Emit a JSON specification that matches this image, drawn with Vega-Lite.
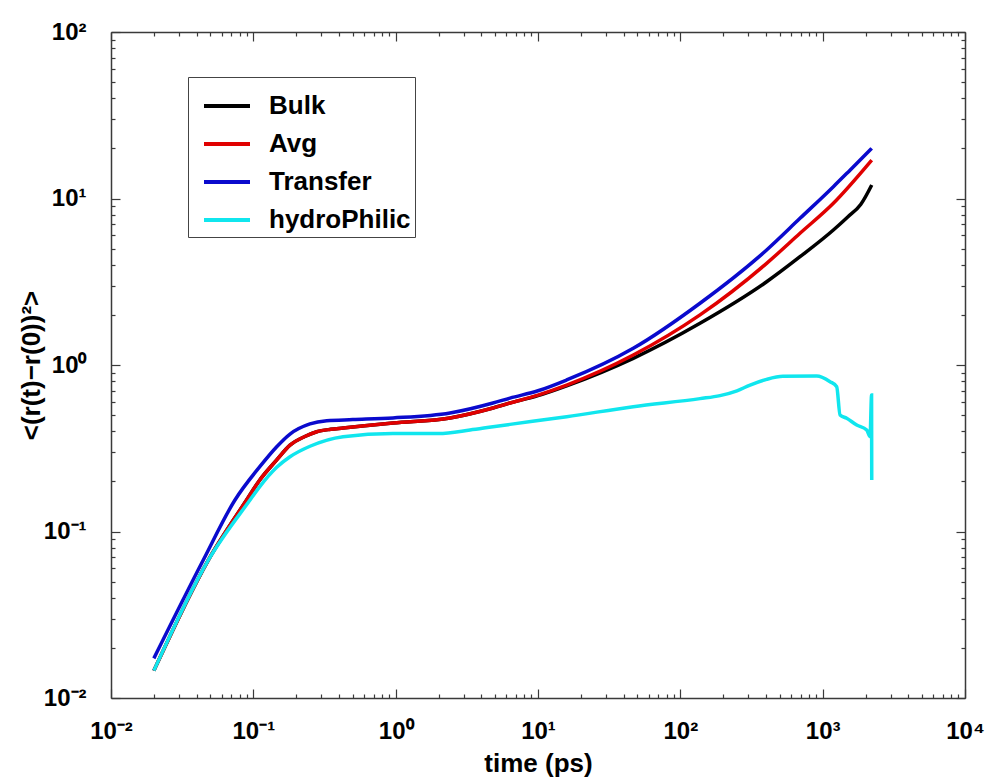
{
  "$schema": "https://vega.github.io/schema/vega-lite/v6.json",
  "width": 854,
  "height": 666,
  "autosize": "none",
  "padding": {"left": 111, "top": 32, "right": 24, "bottom": 85},
  "background": "white",
  "config": {
    "view": {"stroke": null},
    "axis": {
      "grid": false,
      "domainColor": "#3a3a3a",
      "domainWidth": 1.5,
      "tickColor": "#3a3a3a",
      "tickWidth": 1.2,
      "labelFont": "Liberation Sans",
      "labelFontSize": 24,
      "labelFontWeight": "bold",
      "labelColor": "black",
      "titleFont": "Liberation Sans",
      "titleFontSize": 26,
      "titleFontWeight": "bold",
      "titleColor": "black",
      "labelOverlap": false,
      "labelBound": false,
      "labelFlush": false
    }
  },
  "data": {
    "values": [
      {"series": "Bulk", "t": 0.02, "msd": 0.0146},
      {"series": "Bulk", "t": 0.0483, "msd": 0.0674},
      {"series": "Bulk", "t": 0.0897, "msd": 0.1546},
      {"series": "Bulk", "t": 0.111, "msd": 0.204},
      {"series": "Bulk", "t": 0.146, "msd": 0.269},
      {"series": "Bulk", "t": 0.181, "msd": 0.33},
      {"series": "Bulk", "t": 0.23, "msd": 0.372},
      {"series": "Bulk", "t": 0.279, "msd": 0.3975},
      {"series": "Bulk", "t": 0.35, "msd": 0.411},
      {"series": "Bulk", "t": 0.427, "msd": 0.418},
      {"series": "Bulk", "t": 0.957, "msd": 0.449},
      {"series": "Bulk", "t": 2.41, "msd": 0.481},
      {"series": "Bulk", "t": 4.83, "msd": 0.552},
      {"series": "Bulk", "t": 6.36, "msd": 0.591},
      {"series": "Bulk", "t": 10, "msd": 0.655},
      {"series": "Bulk", "t": 15.9, "msd": 0.75},
      {"series": "Bulk", "t": 46.7, "msd": 1.097},
      {"series": "Bulk", "t": 137.5, "msd": 1.78},
      {"series": "Bulk", "t": 404, "msd": 3.16},
      {"series": "Bulk", "t": 693, "msd": 4.47},
      {"series": "Bulk", "t": 1189, "msd": 6.47},
      {"series": "Bulk", "t": 1500, "msd": 7.75},
      {"series": "Bulk", "t": 1850, "msd": 9.2},
      {"series": "Bulk", "t": 2212, "msd": 12.06},

      {"series": "Avg", "t": 0.02, "msd": 0.0146},
      {"series": "Avg", "t": 0.0483, "msd": 0.0674},
      {"series": "Avg", "t": 0.0897, "msd": 0.1546},
      {"series": "Avg", "t": 0.111, "msd": 0.204},
      {"series": "Avg", "t": 0.146, "msd": 0.269},
      {"series": "Avg", "t": 0.181, "msd": 0.33},
      {"series": "Avg", "t": 0.23, "msd": 0.372},
      {"series": "Avg", "t": 0.279, "msd": 0.3975},
      {"series": "Avg", "t": 0.35, "msd": 0.411},
      {"series": "Avg", "t": 0.427, "msd": 0.418},
      {"series": "Avg", "t": 0.957, "msd": 0.449},
      {"series": "Avg", "t": 2.41, "msd": 0.481},
      {"series": "Avg", "t": 4.83, "msd": 0.552},
      {"series": "Avg", "t": 6.36, "msd": 0.591},
      {"series": "Avg", "t": 10, "msd": 0.66},
      {"series": "Avg", "t": 15.9, "msd": 0.758},
      {"series": "Avg", "t": 46.7, "msd": 1.148},
      {"series": "Avg", "t": 137.5, "msd": 2.0},
      {"series": "Avg", "t": 404, "msd": 4.08},
      {"series": "Avg", "t": 693, "msd": 6.18},
      {"series": "Avg", "t": 1189, "msd": 9.36},
      {"series": "Avg", "t": 2212, "msd": 17.0},

      {"series": "Transfer", "t": 0.02, "msd": 0.0173},
      {"series": "Transfer", "t": 0.0445, "msd": 0.0674},
      {"series": "Transfer", "t": 0.0743, "msd": 0.1546},
      {"series": "Transfer", "t": 0.111, "msd": 0.245},
      {"series": "Transfer", "t": 0.146, "msd": 0.323},
      {"series": "Transfer", "t": 0.181, "msd": 0.385},
      {"series": "Transfer", "t": 0.25, "msd": 0.443},
      {"series": "Transfer", "t": 0.328, "msd": 0.463},
      {"series": "Transfer", "t": 0.5, "msd": 0.47},
      {"series": "Transfer", "t": 0.957, "msd": 0.481},
      {"series": "Transfer", "t": 2.41, "msd": 0.515},
      {"series": "Transfer", "t": 4.83, "msd": 0.591},
      {"series": "Transfer", "t": 6.36, "msd": 0.633},
      {"series": "Transfer", "t": 10, "msd": 0.7},
      {"series": "Transfer", "t": 15.9, "msd": 0.813},
      {"series": "Transfer", "t": 46.7, "msd": 1.26},
      {"series": "Transfer", "t": 137.5, "msd": 2.35},
      {"series": "Transfer", "t": 404, "msd": 4.91},
      {"series": "Transfer", "t": 693, "msd": 7.6},
      {"series": "Transfer", "t": 1189, "msd": 11.78},
      {"series": "Transfer", "t": 1556, "msd": 14.8},
      {"series": "Transfer", "t": 2212, "msd": 20.0},

      {"series": "hydroPhilic", "t": 0.02, "msd": 0.0146},
      {"series": "hydroPhilic", "t": 0.0483, "msd": 0.0674},
      {"series": "hydroPhilic", "t": 0.0948, "msd": 0.1546},
      {"series": "hydroPhilic", "t": 0.111, "msd": 0.186},
      {"series": "hydroPhilic", "t": 0.146, "msd": 0.243},
      {"series": "hydroPhilic", "t": 0.181, "msd": 0.281},
      {"series": "hydroPhilic", "t": 0.25, "msd": 0.325},
      {"series": "hydroPhilic", "t": 0.427, "msd": 0.371},
      {"series": "hydroPhilic", "t": 0.957, "msd": 0.388},
      {"series": "hydroPhilic", "t": 2.0, "msd": 0.388},
      {"series": "hydroPhilic", "t": 3.33, "msd": 0.407},
      {"series": "hydroPhilic", "t": 4.83, "msd": 0.426},
      {"series": "hydroPhilic", "t": 6.36, "msd": 0.44},
      {"series": "hydroPhilic", "t": 15.9, "msd": 0.489},
      {"series": "hydroPhilic", "t": 46.7, "msd": 0.562},
      {"series": "hydroPhilic", "t": 137.5, "msd": 0.628},
      {"series": "hydroPhilic", "t": 190, "msd": 0.655},
      {"series": "hydroPhilic", "t": 250, "msd": 0.7},
      {"series": "hydroPhilic", "t": 309, "msd": 0.758},
      {"series": "hydroPhilic", "t": 404, "msd": 0.82},
      {"series": "hydroPhilic", "t": 526, "msd": 0.855},
      {"series": "hydroPhilic", "t": 908, "msd": 0.859},
      {"series": "hydroPhilic", "t": 1127, "msd": 0.794},
      {"series": "hydroPhilic", "t": 1255, "msd": 0.741},
      {"series": "hydroPhilic", "t": 1325, "msd": 0.501},
      {"series": "hydroPhilic", "t": 1475, "msd": 0.479},
      {"series": "hydroPhilic", "t": 1735, "msd": 0.436},
      {"series": "hydroPhilic", "t": 2039, "msd": 0.407},
      {"series": "hydroPhilic", "t": 2152, "msd": 0.371},
      {"series": "hydroPhilic", "t": 2206, "msd": 0.66},
      {"series": "hydroPhilic", "t": 2212, "msd": 0.204}
    ]
  },
  "layer": [
    {
      "mark": {"type": "line", "strokeWidth": 3.5, "clip": true, "interpolate": "monotone"},
      "encoding": {
        "x": {
          "field": "t", "type": "quantitative",
          "scale": {"type": "log", "domain": [0.01, 10000]},
          "axis": {
            "orient": "bottom",
            "title": "time (ps)",
            "titlePadding": 2,
            "values": [0.01,0.02,0.03,0.04,0.05,0.06,0.07,0.08,0.09,0.1,0.2,0.3,0.4,0.5,0.6,0.7,0.8,0.9,1,2,3,4,5,6,7,8,9,10,20,30,40,50,60,70,80,90,100,200,300,400,500,600,700,800,900,1000,2000,3000,4000,5000,6000,7000,8000,9000,10000],
            "tickSize": {"condition": {"test": "abs(log(datum.value)/LN10 - round(log(datum.value)/LN10)) < 0.001", "value": -9}, "value": -4},
            "labelPadding": 30,
            "labelExpr": "abs(log(datum.value)/LN10 - round(log(datum.value)/LN10)) > 0.001 ? '' : (round(log(datum.value)/LN10) == -2 ? '10⁻²' : round(log(datum.value)/LN10) == -1 ? '10⁻¹' : round(log(datum.value)/LN10) == 0 ? '10⁰' : round(log(datum.value)/LN10) == 1 ? '10¹' : round(log(datum.value)/LN10) == 2 ? '10²' : round(log(datum.value)/LN10) == 3 ? '10³' : '10⁴')"
          }
        },
        "y": {
          "field": "msd", "type": "quantitative",
          "scale": {"type": "log", "domain": [0.01, 100]},
          "axis": {
            "orient": "left",
            "title": "<(r(t)−r(0))²>",
            "titlePadding": -1,
            "values": [0.01,0.02,0.03,0.04,0.05,0.06,0.07,0.08,0.09,0.1,0.2,0.3,0.4,0.5,0.6,0.7,0.8,0.9,1,2,3,4,5,6,7,8,9,10,20,30,40,50,60,70,80,90,100],
            "tickSize": {"condition": {"test": "abs(log(datum.value)/LN10 - round(log(datum.value)/LN10)) < 0.001", "value": -9}, "value": -4},
            "labelPadding": 34,
            "labelExpr": "abs(log(datum.value)/LN10 - round(log(datum.value)/LN10)) > 0.001 ? '' : (round(log(datum.value)/LN10) == -2 ? '10⁻²' : round(log(datum.value)/LN10) == -1 ? '10⁻¹' : round(log(datum.value)/LN10) == 0 ? '10⁰' : round(log(datum.value)/LN10) == 1 ? '10¹' : round(log(datum.value)/LN10) == 2 ? '10²' : round(log(datum.value)/LN10) == 3 ? '10³' : '10⁴')"
          }
        },
        "color": {
          "field": "series", "type": "nominal",
          "scale": {
            "domain": ["Bulk", "Avg", "Transfer", "hydroPhilic"],
            "range": ["#000000", "#e00000", "#0a0acd", "#10e6ee"]
          },
          "legend": {
            "title": null,
            "orient": "none",
            "legendX": 77,
            "legendY": 45,
            "direction": "vertical",
            "symbolType": "stroke",
            "symbolSize": 2116,
            "symbolStrokeWidth": 4,
            "symbolOffset": 10,
            "labelOffset": 17,
            "labelFont": "Liberation Sans",
            "labelFontSize": 26,
            "labelFontWeight": "bold",
            "labelColor": "black",
            "padding": 4,
            "rowPadding": -5,
            "strokeColor": "#444444",
            "fillColor": "white"
          }
        }
      }
    },
    {
      "mark": {"type": "line", "opacity": 0},
      "encoding": {
        "x": {
          "field": "t", "type": "quantitative",
          "scale": {"type": "log", "domain": [0.01, 10000]},
          "axis": {
            "orient": "top", "title": null, "labels": false,
            "values": [0.01,0.02,0.03,0.04,0.05,0.06,0.07,0.08,0.09,0.1,0.2,0.3,0.4,0.5,0.6,0.7,0.8,0.9,1,2,3,4,5,6,7,8,9,10,20,30,40,50,60,70,80,90,100,200,300,400,500,600,700,800,900,1000,2000,3000,4000,5000,6000,7000,8000,9000,10000],
            "tickSize": {"condition": {"test": "abs(log(datum.value)/LN10 - round(log(datum.value)/LN10)) < 0.001", "value": -9}, "value": -4}
          }
        },
        "y": {
          "field": "msd", "type": "quantitative",
          "scale": {"type": "log", "domain": [0.01, 100]},
          "axis": {
            "orient": "right", "title": null, "labels": false,
            "values": [0.01,0.02,0.03,0.04,0.05,0.06,0.07,0.08,0.09,0.1,0.2,0.3,0.4,0.5,0.6,0.7,0.8,0.9,1,2,3,4,5,6,7,8,9,10,20,30,40,50,60,70,80,90,100],
            "tickSize": {"condition": {"test": "abs(log(datum.value)/LN10 - round(log(datum.value)/LN10)) < 0.001", "value": -9}, "value": -4}
          }
        }
      }
    }
  ],
  "resolve": {"axis": {"x": "independent", "y": "independent"}}
}
